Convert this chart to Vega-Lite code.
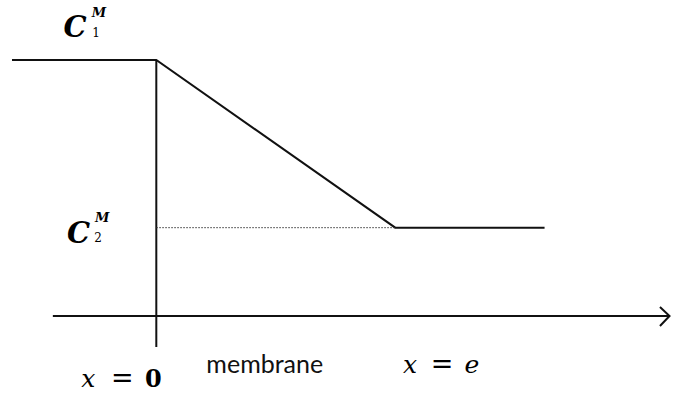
{
  "$schema": "https://vega.github.io/schema/vega-lite/v6.json",
  "width": 674,
  "height": 394,
  "autosize": {"type": "fit", "contains": "padding"},
  "padding": 0,
  "background": "white",
  "config": {"view": {"stroke": null}},
  "datasets": {
    "lines": [
      {"series": "profile", "ord": 1, "u": -0.604, "c": 1},
      {"series": "profile", "ord": 2, "u": 0, "c": 1},
      {"series": "profile", "ord": 3, "u": 1.0, "c": 0.345},
      {"series": "profile", "ord": 4, "u": 1.625, "c": 0.345},
      {"series": "membrane", "ord": 1, "u": 0, "c": 1},
      {"series": "membrane", "ord": 2, "u": 0, "c": -0.121},
      {"series": "axis", "ord": 1, "u": -0.433, "c": 0},
      {"series": "axis", "ord": 2, "u": 2.146, "c": 0},
      {"series": "arrow", "ord": 1, "u": 2.108, "c": 0.035},
      {"series": "arrow", "ord": 2, "u": 2.148, "c": 0},
      {"series": "arrow", "ord": 3, "u": 2.108, "c": -0.039}
    ],
    "dotted": [
      {"ord": 1, "u": 0, "c": 0.345},
      {"ord": 2, "u": 1.0, "c": 0.345}
    ],
    "bigC": [
      {"label": "C", "u": -0.34, "c": 1.09},
      {"label": "C", "u": -0.325, "c": 0.285}
    ],
    "sup": [
      {"label": "M", "u": -0.24, "c": 1.168},
      {"label": "M", "u": -0.227, "c": 0.367}
    ],
    "sub": [
      {"label": "1", "u": -0.252, "c": 1.09},
      {"label": "2", "u": -0.244, "c": 0.289}
    ],
    "mathItalic": [
      {"label": "x", "u": -0.285, "c": -0.277},
      {"label": "x", "u": 1.0625, "c": -0.223},
      {"label": "e", "u": 1.321, "c": -0.223}
    ],
    "equals": [
      {"label": "=", "u": -0.142, "c": -0.277},
      {"label": "=", "u": 1.196, "c": -0.223}
    ],
    "zero": [
      {"label": "0", "u": -0.0125, "c": -0.277}
    ],
    "word": [
      {"label": "membrane", "u": 0.454, "c": -0.223}
    ]
  },
  "encoding": {
    "x": {"field": "u", "type": "quantitative", "scale": {"domain": [-0.6542, 2.1542], "nice": false, "zero": false}, "axis": null},
    "y": {"field": "c", "type": "quantitative", "scale": {"domain": [-0.3047, 1.2344], "nice": false, "zero": false}, "axis": null}
  },
  "layer": [
    {
      "data": {"name": "lines"},
      "mark": {"type": "line", "color": "#111111", "strokeWidth": 2},
      "encoding": {
        "detail": {"field": "series", "type": "nominal"},
        "order": {"field": "ord", "type": "quantitative"}
      }
    },
    {
      "data": {"name": "dotted"},
      "mark": {"type": "line", "color": "#333333", "strokeWidth": 1, "strokeDash": [1.5, 1.5]},
      "encoding": {"order": {"field": "ord", "type": "quantitative"}}
    },
    {
      "data": {"name": "bigC"},
      "mark": {"type": "text", "font": "DejaVu Serif", "fontSize": 29, "fontWeight": "bold", "fontStyle": "italic", "align": "center", "baseline": "alphabetic", "color": "#000000"},
      "encoding": {"text": {"field": "label"}}
    },
    {
      "data": {"name": "sup"},
      "mark": {"type": "text", "font": "DejaVu Serif", "fontSize": 13, "fontStyle": "italic", "fontWeight": "bold", "align": "center", "baseline": "alphabetic", "color": "#000000"},
      "encoding": {"text": {"field": "label"}}
    },
    {
      "data": {"name": "sub"},
      "mark": {"type": "text", "font": "DejaVu Serif", "fontSize": 12, "align": "center", "baseline": "alphabetic", "color": "#000000"},
      "encoding": {"text": {"field": "label"}}
    },
    {
      "data": {"name": "mathItalic"},
      "mark": {"type": "text", "font": "DejaVu Serif", "fontSize": 25, "fontStyle": "italic", "align": "center", "baseline": "alphabetic", "color": "#000000"},
      "encoding": {"text": {"field": "label"}}
    },
    {
      "data": {"name": "equals"},
      "mark": {"type": "text", "font": "DejaVu Serif", "fontSize": 27, "align": "center", "baseline": "alphabetic", "color": "#000000"},
      "encoding": {"text": {"field": "label"}}
    },
    {
      "data": {"name": "zero"},
      "mark": {"type": "text", "font": "DejaVu Serif", "fontSize": 24, "fontWeight": "bold", "align": "center", "baseline": "alphabetic", "color": "#000000"},
      "encoding": {"text": {"field": "label"}}
    },
    {
      "data": {"name": "word"},
      "mark": {"type": "text", "font": "Lato", "fontSize": 25, "align": "center", "baseline": "alphabetic", "color": "#111111"},
      "encoding": {"text": {"field": "label"}}
    }
  ]
}
